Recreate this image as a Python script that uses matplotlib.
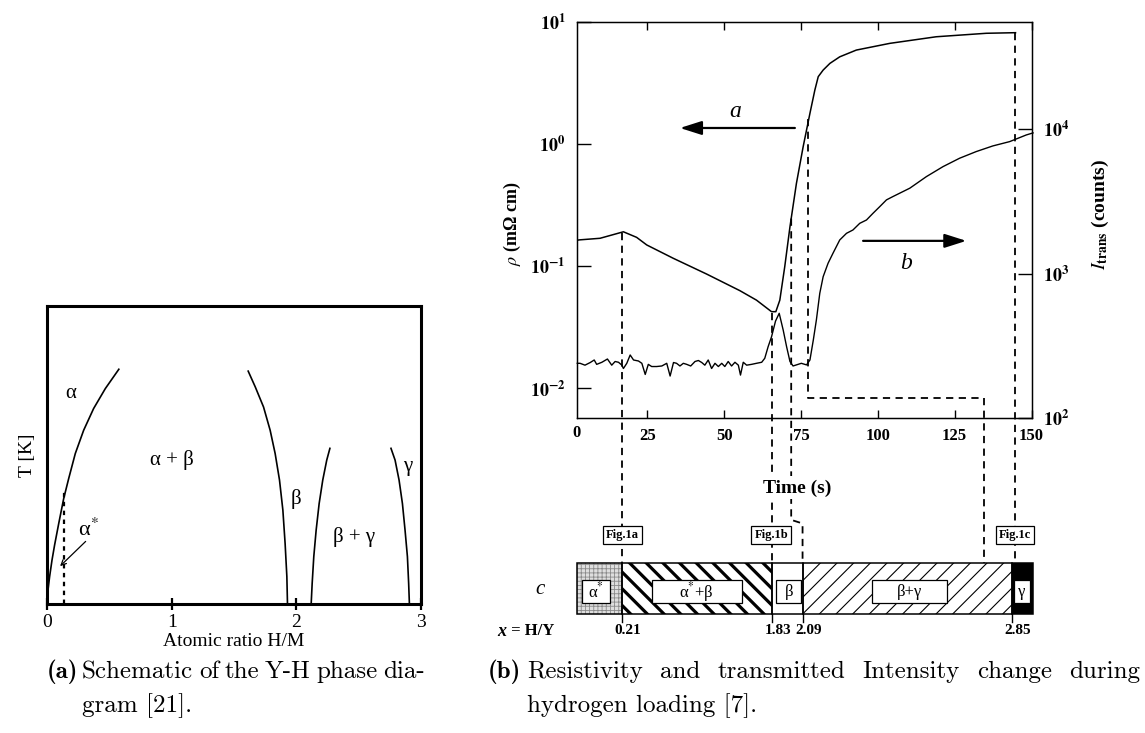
import matplotlib
matplotlib.use('Agg')
import matplotlib.pyplot as plt
from matplotlib.patches import Rectangle
from matplotlib.lines import Line2D
from matplotlib.ticker import NullLocator

plt.rcParams['mathtext.fontset'] = 'stix'
plt.rcParams['font.family'] = ['Liberation Serif', 'DejaVu Serif']

# ---------------- data: (a) phase diagram boundaries ----------------
alpha_x = [0.0, 0.008, 0.021, 0.040, 0.061, 0.094, 0.134, 0.174, 0.227, 0.294, 0.374, 0.468, 0.580]
alpha_y = [0.0, 0.047, 0.092, 0.147, 0.198, 0.270, 0.354, 0.421, 0.505, 0.583, 0.656, 0.723, 0.790]
beta_left_x = [1.611, 1.670, 1.737, 1.790, 1.830, 1.865, 1.892, 1.910, 1.924, 1.929]
beta_left_y = [0.784, 0.729, 0.661, 0.583, 0.505, 0.416, 0.315, 0.203, 0.092, 0.0]
beta_right_x = [2.119, 2.127, 2.140, 2.159, 2.183, 2.212, 2.244, 2.271]
beta_right_y = [0.0, 0.069, 0.159, 0.248, 0.337, 0.416, 0.483, 0.525]
gamma_x = [2.757, 2.792, 2.824, 2.851, 2.872, 2.891, 2.901, 2.907]
gamma_y = [0.525, 0.483, 0.416, 0.337, 0.248, 0.159, 0.069, 0.0]
alpha_star_x = 0.134
alpha_star_top = 0.377
a_xticks = [0, 1, 2, 3]

# ---------------- data: (b) resistivity (a) and intensity (b) ----------------
t_rho = [2.2, 2.9, 9.6, 17.2, 21.5, 24.8, 33.4, 44.3, 55.1, 60.5, 65.4, 66.8, 68.1, 69.7,
         71.4, 73.5, 75.7, 77.9, 79.5, 80.6, 82.2, 84.4, 87.6, 93.0, 103.9, 119.0, 135.3, 144.8]
rho = [0.163, 0.164, 0.169, 0.191, 0.172, 0.149, 0.116, 0.0861, 0.0630, 0.0527, 0.0424, 0.0424,
       0.0527, 0.0989, 0.210, 0.475, 0.951, 1.78, 2.76, 3.55, 4.02, 4.56, 5.16, 5.86, 6.65,
       7.53, 8.04, 8.13]

t_int = [2.2, 3.1, 4.7, 6.4, 7.7, 8.5, 10.2, 12.0, 13.4, 14.5, 15.6, 16.7, 17.2, 18.3, 19.4,
         20.5, 22.1, 23.2, 24.3, 25.3, 26.4, 28.0, 29.7, 31.3, 32.4, 33.5, 34.5, 35.6, 36.7,
         37.8, 39.1, 40.5, 41.6, 42.7, 43.7, 44.8, 45.9, 47.0, 48.1, 49.2, 50.2, 51.3, 52.4,
         53.5, 54.6, 55.3, 56.2, 57.3, 58.9, 60.5, 62.2, 63.2, 64.3, 65.4, 66.7, 67.9, 69.2,
         70.3, 71.4, 72.4, 73.5, 75.1, 76.8, 77.9, 79.0, 80.0, 81.1, 82.2, 83.8, 85.4, 87.6,
         89.8, 91.9, 94.1, 96.3, 98.4, 100.6, 102.8, 104.9, 110.4, 115.8, 121.2, 126.6,
         132.0, 137.4, 142.9, 148.3, 150.5]
intensity = [240, 240, 233, 243, 253, 236, 244, 257, 233, 247, 244, 233, 221, 240, 274,
             253, 249, 240, 201, 236, 228, 228, 230, 240, 196, 243, 240, 230, 240,
             236, 230, 247, 251, 243, 233, 253, 221, 240, 228, 240, 228, 247, 230,
             244, 233, 199, 244, 233, 236, 240, 244, 260, 313, 366, 470, 532, 407,
             313, 247, 230, 234, 240, 234, 253, 348, 479, 731, 953, 1180, 1384, 1710,
             1901, 2005, 2228, 2350, 2612, 2904, 3236, 3412, 3899, 4688, 5495, 6281,
             6982, 7638, 8185, 9099, 9400]

time_ticks = [25, 50, 75, 100, 125, 150]
rho_ticks = [1e-2, 1e-1, 1e0, 1e1]
rho_ticklabels = [r'$\mathbf{10^{-2}}$', r'$\mathbf{10^{-1}}$', r'$\mathbf{10^{0}}$', r'$\mathbf{10^{1}}$']
int_ticks = [1e2, 1e3, 1e4]
int_ticklabels = [r'$\mathbf{10^{2}}$', r'$\mathbf{10^{3}}$', r'$\mathbf{10^{4}}$']

# (c) phase bar, aligned to time axis
bar_edges = [2.2, 16.6, 65.5, 75.5, 143.6, 150.6]
bar_phases = [r'α$^{*}$', r'α$^{*}$+β', 'β', 'β+γ', 'γ']
hy_labels = ['0.21', '1.83', '2.09', '2.85']
fig_refs = ['Fig.1a', 'Fig.1b', 'Fig.1c']
fig_ref_t = [16.8, 65.3, 144.7]

# dashed guide paths: (time, value, system)
guide_paths = [
    [(16.8, 0.188, 'rho'), (16.8, 1.0, 'bar')],
    [(65.5, 0.041, 'rho'), (65.5, 1.0, 'bar')],
    [(71.8, 0.245, 'rho'), (71.8, 1.83, 'bar'), (75.5, 1.76, 'bar'), (75.5, 1.0, 'bar')],
    [(77.4, 1.6, 'rho'), (77.4, 0.00828, 'rho'), (134.6, 0.00828, 'rho'), (134.6, 1.0, 'bar')],
    [(144.7, 8.13, 'rho'), (144.7, 1.0, 'bar')],
]

W, H = 1145, 733
fig = plt.figure(figsize=(W / 100, H / 100), dpi=100)


def rect(l, t, r, b):
    return [l / W, 1 - b / H, (r - l) / W, (b - t) / H]


# ====================== panel (a) ======================
ax_a = fig.add_axes(rect(47, 306, 421, 604))
ax_a.set_xlim(0, 3)
ax_a.set_ylim(0, 1)
for sp in ax_a.spines.values():
    sp.set_linewidth(2.2)
ax_a.set_xticks(a_xticks)
ax_a.set_xticklabels([str(v) for v in a_xticks], fontsize=14)
ax_a.tick_params(axis='x', direction='inout', length=8, width=1.6, pad=3)
ax_a.set_yticks([])
ax_a.set_xlabel('Atomic ratio H/M', fontsize=14, labelpad=2)
ax_a.set_ylabel('T [K]', fontsize=14, labelpad=8)

for xs, ys in [(alpha_x, alpha_y), (beta_left_x, beta_left_y),
               (beta_right_x, beta_right_y), (gamma_x, gamma_y)]:
    ax_a.plot(xs, ys, color='black', lw=1.2, solid_capstyle='butt')
ax_a.plot([alpha_star_x, alpha_star_x], [0, alpha_star_top], color='black',
          lw=1.6, linestyle=(0, (2.0, 2.0)))

ax_a.text(0.187, 0.707, 'α', fontsize=15, ha='center', va='center')
ax_a.text(1.0, 0.483, 'α + β', fontsize=15, ha='center', va='center')
ax_a.text(2.0, 0.354, 'β', fontsize=15, ha='center', va='center')
ax_a.text(2.46, 0.226, 'β + γ', fontsize=15, ha='center', va='center')
ax_a.text(2.89, 0.46, 'γ', fontsize=15, ha='center', va='center')
ax_a.text(0.33, 0.25, r'α$^{*}$', fontsize=16, ha='center', va='center')
ax_a.annotate('', xy=(0.105, 0.127), xytext=(0.31, 0.21),
              arrowprops=dict(arrowstyle='->', lw=0.9, color='black',
                              shrinkA=0, shrinkB=0, mutation_scale=9))

# ====================== panel (b) ======================
ax = fig.add_axes(rect(576.7, 21.7, 1031.5, 418.3))
ax.set_xlim(2, 150)
ax.set_yscale('log')
ax.set_ylim(10 ** -2.245, 10)
ax.yaxis.set_minor_locator(NullLocator())
ax.set_xticks(time_ticks)
ax.set_xticklabels([str(v) for v in time_ticks], fontsize=12, fontweight='bold')
ax.set_yticks(rho_ticks)
ax.set_yticklabels(rho_ticklabels, fontsize=13)
ax.tick_params(axis='x', direction='in', length=6, width=1.0, top=True, pad=7)
ax.tick_params(axis='y', direction='in', length=10, width=1.0, pad=8)
for sp in ax.spines.values():
    sp.set_linewidth(1.0)
ax.text(0, -0.018, '0', transform=ax.transAxes, ha='center', va='top',
        fontsize=12, fontweight='bold')
ax.set_ylabel(r'$\rho$ (mΩ cm)', fontsize=13, fontweight='bold')
ax.yaxis.set_label_coords(-0.118, 0.49)

ax.plot(t_rho, rho, color='black', lw=1.1)

ax2 = ax.twinx()
ax2.set_yscale('log')
ax2.set_ylim(100, 10 ** 4.742)
ax2.yaxis.set_minor_locator(NullLocator())
ax2.set_yticks(int_ticks)
ax2.set_yticklabels(int_ticklabels, fontsize=13)
ax2.tick_params(axis='y', direction='in', length=10, width=1.0, pad=8)
ax2.set_ylabel(r'$\mathit{I}_{\mathbf{trans}}$ (counts)', fontsize=14, fontweight='bold')
ax2.yaxis.set_label_coords(1.128, 0.513)
ax2.plot(t_int, intensity, color='black', lw=1.0, clip_on=False)

# arrows and curve names
ax.annotate('', xy=(35.6, 1.35), xytext=(73.0, 1.35),
            arrowprops=dict(arrowstyle='-|>,head_length=1.1,head_width=0.35',
                            lw=1.6, color='black', shrinkA=0, shrinkB=0,
                            mutation_scale=12))
ax.text(53.5, 1.84, 'a', fontsize=17, style='italic', ha='center', va='center')
ax.annotate('', xy=(128.8, 0.161), xytext=(95.2, 0.161),
            arrowprops=dict(arrowstyle='-|>,head_length=1.1,head_width=0.35',
                            lw=1.6, color='black', shrinkA=0, shrinkB=0,
                            mutation_scale=12))
ax.text(109.3, 0.105, 'b', fontsize=17, style='italic', ha='center', va='center')

# ====================== panel (c) bar ======================
ax_c = fig.add_axes(rect(576.7, 562.7, 1031.5, 614.3))
ax_c.set_xlim(2, 150)
ax_c.set_ylim(0, 1)
ax_c.axis('off')

seg_styles = [
    dict(facecolor='#dedede', edgecolor='#8a8a8a', hatch='++++', hlw=0.6),
    dict(facecolor='white', edgecolor='black', hatch='\\\\', hlw=2.3),
    dict(facecolor='white', edgecolor='white', hatch=None, hlw=0.0),
    dict(facecolor='white', edgecolor='black', hatch='//', hlw=0.8),
    dict(facecolor='black', edgecolor='black', hatch=None, hlw=0.0),
]
box_spans = [(3.6, 12.9), (26.4, 55.7), (67.0, 75.1), (98.0, 122.4), (144.2, 149.6)]
for i, st in enumerate(seg_styles):
    x0, x1 = bar_edges[i], bar_edges[i + 1]
    p = Rectangle((x0, 0), x1 - x0, 1, facecolor=st['facecolor'],
                  edgecolor=st['edgecolor'], hatch=st['hatch'], lw=0,
                  clip_on=False, zorder=1)
    if st['hatch'] is not None and hasattr(p, 'set_hatch_linewidth'):
        p.set_hatch_linewidth(st['hlw'])
    ax_c.add_patch(p)
    ax_c.add_patch(Rectangle((x0, 0), x1 - x0, 1, fill=False, edgecolor='black',
                             lw=1.1, clip_on=False, zorder=2))
    b0, b1 = box_spans[i]
    ax_c.add_patch(Rectangle((b0, 0.22), b1 - b0, 0.445, facecolor='white',
                             edgecolor='black', lw=0.9, clip_on=False, zorder=3))
    ax_c.text((b0 + b1) / 2, 0.44, bar_phases[i], fontsize=12, ha='center',
              va='center', zorder=4, clip_on=False)

for e, lab in zip(bar_edges[1:5], hy_labels):
    ax_c.plot([e, e], [0, -0.14], color='black', lw=1.0, clip_on=False)
    ax_c.text(e + 2.0, -0.32, lab, fontsize=11, fontweight='bold', ha='center',
              va='center', clip_on=False)

fig.text(540 / W, 1 - 590 / H, 'c', fontsize=15, style='italic', ha='center', va='center')
fig.text(497 / W, 1 - 631 / H, 'x', fontsize=13, style='italic', fontweight='bold',
         ha='left', va='center')
fig.text(507 / W, 1 - 631 / H, ' = H/Y', fontsize=12, fontweight='bold',
         ha='left', va='center')

# dashed guide lines (figure coordinates)
inv = fig.transFigure.inverted()


def to_fig(t, v, system):
    src = ax if system == 'rho' else ax_c
    return inv.transform(src.transData.transform((t, v)))


for path in guide_paths:
    pts = [to_fig(*p) for p in path]
    xs = [q[0] for q in pts]
    ys = [q[1] for q in pts]
    ax_c.add_line(Line2D(xs, ys, transform=fig.transFigure, color='black', lw=1.3,
                         linestyle=(0, (4.0, 3.0)), clip_on=False, zorder=5))

for lab, t in zip(fig_refs, fig_ref_t):
    ax_c.text(t, 1.53, lab, fontsize=9, fontweight='bold', ha='center', va='center',
              clip_on=False, zorder=10,
              bbox=dict(boxstyle='square,pad=0.25', facecolor='white',
                        edgecolor='black', lw=0.9))

ax_c.text(73.7, 2.45, 'Time (s)', fontsize=14, fontweight='bold', ha='center',
          va='center', clip_on=False, zorder=10,
          bbox=dict(boxstyle='square,pad=0.15', facecolor='white', edgecolor='none'))

# ====================== captions ======================
cap_size = 18
renderer = fig.canvas.get_renderer()


def justified_line(x0, x1, y, text):
    words = text.split(' ')
    objs = [fig.text(0, 1 - y / H, w, family='cmr10', fontsize=cap_size,
                     ha='left', va='center') for w in words]
    widths = [o.get_window_extent(renderer).width for o in objs]
    gap = (x1 - x0 - sum(widths)) / (len(words) - 1)
    x = x0
    for o, w in zip(objs, widths):
        o.set_x(x / W)
        x += w + gap


fig.text(47 / W, 1 - 672 / H, '(a)', family='cmb10', fontsize=cap_size, ha='left', va='center')
justified_line(82, 425, 672, 'Schematic of the Y-H phase dia-')
fig.text(82 / W, 1 - 706 / H, 'gram [21].', family='cmr10', fontsize=cap_size,
         ha='left', va='center')
fig.text(488 / W, 1 - 672 / H, '(b)', family='cmb10', fontsize=cap_size, ha='left', va='center')
justified_line(527, 1140, 672, 'Resistivity and transmitted Intensity change during')
fig.text(527 / W, 1 - 706 / H, 'hydrogen loading [7].', family='cmr10',
         fontsize=cap_size, ha='left', va='center')

fig.savefig('out.png', dpi=100)
